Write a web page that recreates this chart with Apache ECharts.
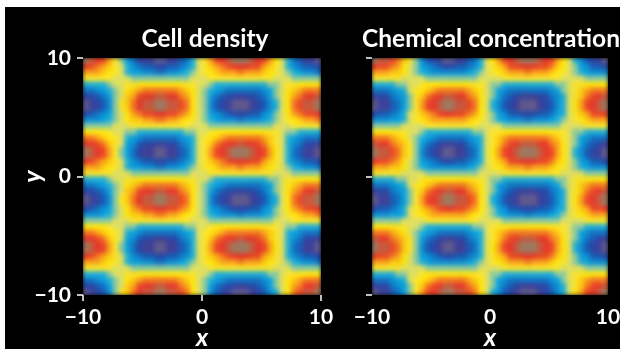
<!DOCTYPE html>
<html><head><meta charset="utf-8">
<style>html,body{margin:0;padding:0;background:#fff}#c{width:620px;height:349px;position:relative}
#c canvas[data-zr-dom-id="zr_1"]{filter:blur(2px);clip-path:polygon(83px 58px,321px 58px,321px 295px,372px 295px,372px 58px,608px 58px,608px 295px,83px 295px)}
</style>
<script src="https://cdn.jsdelivr.net/npm/echarts@6/dist/echarts.min.js"></script>
</head><body><div id="c"></div>
<script>
// Tick labels
const xTicks = [-10, 0, 10];
const yTicks = [-10, 0, 10];
const titles = ['Cell density', 'Chemical concentration'];

// Cell density: rows, levels -9 (blue centre) .. 9 (red centre)
const a1 = [9,8,7,6,4,1,-1,-3,-5,-7,-8,-8,-9,-9,-8,-8,-6,-5,-2,0,1,4,6,7,8,9,9,9,8,7,6,4,2,0,-2,-5,-6,-8,-8,-9];
const a2 = [7,7,6,5,3,1,0,-3,-4,-6,-7,-7,-8,-8,-7,-7,-5,-4,-2,0,1,3,5,6,7,7,8,7,7,6,5,3,1,0,-2,-4,-5,-7,-7,-8];
const a3 = [7,6,5,4,3,1,0,-2,-4,-5,-6,-6,-7,-7,-6,-6,-5,-4,-2,0,1,3,4,5,6,7,7,7,6,6,4,3,1,0,-2,-4,-5,-6,-6,-7];
const a4 = [5,5,4,3,2,1,0,-2,-3,-4,-5,-5,-5,-5,-5,-5,-4,-3,-2,0,1,2,3,4,5,5,5,5,5,5,4,3,1,0,-2,-3,-4,-5,-5,-5];
const a5 = [4,4,4,3,2,1,0,-2,-3,-3,-4,-4,-5,-5,-4,-4,-3,-2,-1,0,1,2,3,4,4,4,5,4,4,4,3,2,1,0,-1,-2,-3,-4,-4,-5];
const a6 = [2,2,2,2,1,0,0,-1,-1,-2,-2,-2,-2,-2,-2,-2,-2,-1,-1,0,0,1,2,2,2,2,2,2,2,2,2,1,1,0,-1,-1,-2,-2,-2,-2];
const a7 = [1,1,1,1,1,0,0,0,-1,-1,-1,-1,-1,-1,-1,-1,-1,-1,0,0,0,1,1,1,1,1,1,1,1,1,1,1,0,0,0,-1,-1,-1,-1,-1];
const b1 = [-9,-8,-7,-6,-4,-1,1,3,5,7,8,8,9,9,8,8,6,5,2,0,-1,-4,-6,-7,-8,-9,-9,-9,-8,-7,-6,-4,-2,0,2,5,6,8,8,9];
const b2 = [-7,-7,-6,-5,-3,-1,0,3,4,6,7,7,8,8,7,7,5,4,2,0,-1,-3,-5,-6,-7,-7,-8,-7,-7,-6,-5,-3,-1,0,2,4,5,7,7,8];
const b3 = [-7,-6,-5,-4,-3,-1,0,2,4,5,6,6,7,7,6,6,5,4,2,0,-1,-3,-4,-5,-6,-7,-7,-7,-6,-6,-4,-3,-1,0,2,4,5,6,6,7];
const b4 = [-5,-5,-4,-3,-2,-1,0,2,3,4,5,5,5,5,5,5,4,3,2,0,-1,-2,-3,-4,-5,-5,-5,-5,-5,-5,-4,-3,-1,0,2,3,4,5,5,5];
const b5 = [-4,-4,-4,-3,-2,-1,0,2,3,3,4,4,5,5,4,4,3,2,1,0,-1,-2,-3,-4,-4,-4,-5,-4,-4,-4,-3,-2,-1,0,1,2,3,4,4,5];
const b6 = [-2,-2,-2,-2,-1,0,0,1,1,2,2,2,2,2,2,2,2,1,1,0,0,-1,-2,-2,-2,-2,-2,-2,-2,-2,-2,-1,-1,0,1,1,2,2,2,2];
const b7 = [-1,-1,-1,-1,-1,0,0,0,1,1,1,1,1,1,1,1,1,1,0,0,0,-1,-1,-1,-1,-1,-1,-1,-1,-1,-1,-1,0,0,0,1,1,1,1,1];
const cellDensity = [a1,a3,a5,a7,b6,b4,b2,b1,b1,b3,b5,b7,a6,a4,a2,a1,a1,a3,a5,a7,b6,b4,b2,b1,b1,b3,b5,b7,a6,a4,a2,a1,a1,a3,a5,a7,b6,b4,b2,b1];

// Chemical concentration: rows
const c1 = [9,8,8,6,5,3,1,-1,-4,-6,-7,-8,-9,-9,-8,-8,-6,-5,-2,0,2,4,6,7,8,9,9,9,8,7,6,4,2,0,-2,-4,-6,-7,-8,-9];
const c2 = [8,7,7,5,4,3,1,-1,-3,-5,-6,-7,-8,-8,-7,-7,-5,-4,-2,0,1,3,5,6,7,8,8,8,7,7,5,4,2,0,-1,-3,-5,-6,-7,-8];
const c3 = [7,6,6,5,4,2,0,-1,-3,-4,-5,-6,-7,-7,-6,-6,-5,-4,-2,0,1,3,4,6,6,7,7,7,6,6,5,3,2,0,-1,-3,-4,-6,-6,-7];
const c4 = [5,5,5,4,3,2,0,-1,-2,-3,-4,-5,-5,-5,-5,-5,-4,-3,-2,0,1,3,4,5,5,5,5,5,5,5,4,3,1,0,-1,-3,-4,-5,-5,-5];
const c5 = [4,4,4,3,3,2,0,-1,-2,-3,-4,-4,-4,-4,-4,-4,-3,-2,-1,0,1,2,3,4,4,4,5,4,4,4,3,2,1,0,-1,-2,-3,-4,-4,-4];
const c6 = [2,2,2,2,1,1,0,0,-1,-2,-2,-2,-2,-2,-2,-2,-2,-1,-1,0,1,1,2,2,2,2,2,2,2,2,2,1,1,0,-1,-1,-2,-2,-2,-2];
const c7 = [1,1,1,1,1,0,0,0,0,-1,-1,-1,-1,-1,-1,-1,-1,-1,0,0,0,0,1,1,1,1,1,1,1,1,1,1,0,0,0,0,-1,-1,-1,-1];
const d1 = [-9,-8,-8,-6,-5,-3,-1,1,4,6,7,8,9,9,8,8,6,5,2,0,-2,-4,-6,-7,-8,-9,-9,-9,-8,-7,-6,-4,-2,0,2,4,6,7,8,9];
const d2 = [-8,-7,-7,-5,-4,-3,-1,1,3,5,6,7,8,8,7,7,5,4,2,0,-1,-3,-5,-6,-7,-8,-8,-8,-7,-7,-5,-4,-2,0,1,3,5,6,7,8];
const d3 = [-7,-6,-6,-5,-4,-2,0,1,3,4,5,6,7,7,6,6,5,4,2,0,-1,-3,-4,-6,-6,-7,-7,-7,-6,-6,-5,-3,-2,0,1,3,4,6,6,7];
const d4 = [-5,-5,-5,-4,-3,-2,0,1,2,3,4,5,5,5,5,5,4,3,2,0,-1,-3,-4,-5,-5,-5,-5,-5,-5,-5,-4,-3,-1,0,1,3,4,5,5,5];
const d5 = [-4,-4,-4,-3,-3,-2,0,1,2,3,4,4,4,4,4,4,3,2,1,0,-1,-2,-3,-4,-4,-4,-5,-4,-4,-4,-3,-2,-1,0,1,2,3,4,4,4];
const d6 = [-2,-2,-2,-2,-1,-1,0,0,1,2,2,2,2,2,2,2,2,1,1,0,-1,-1,-2,-2,-2,-2,-2,-2,-2,-2,-2,-1,-1,0,1,1,2,2,2,2];
const d7 = [-1,-1,-1,-1,-1,0,0,0,0,1,1,1,1,1,1,1,1,1,0,0,0,0,-1,-1,-1,-1,-1,-1,-1,-1,-1,-1,0,0,0,0,1,1,1,1];
const chemicalConcentration = [c1,c3,c5,c7,d6,d4,d2,d1,d1,d3,d5,d7,c6,c4,c2,c1,c1,c3,c5,c7,d6,d4,d2,d1,d1,d3,d5,d7,c6,c4,c2,c1,c1,c3,c5,c7,d6,d4,d2,d1];

const palette = ['#5f5a90','#3f4299','#2a48a6','#1a5cb5','#1276c4','#0d90d4','#0ca2de','#25b0d5','#8ccaa0','#e0e062','#fbe52c','#ffe60f','#fecb10','#f9a51c','#f37a22','#ec4a27','#e63a2a','#c85a3e','#a07a60'];

const cells = t => { const o = []; t.forEach((r, y) => r.forEach((v, x) => o.push([x, y, v]))); return o; };
const idx = cellDensity[0].map((_, i) => i);
const rowIdx = cellDensity.map((_, i) => i);
const minus = v => String(v).replace('-', '\u2212');
const bold = { color: '#fff', fontFamily: 'Lato', fontWeight: 'bold', fontSize: 21 };
const italic = { color: '#fff', fontFamily: 'Lato', fontWeight: 'bold', fontStyle: 'italic', fontSize: 25 };
const tick = { show: true, length: 6, lineStyle: { color: '#fff', width: 1.5 } };
const valueX = (g, showTick) => ({
  type: 'value', gridIndex: g, min: xTicks[0], max: xTicks[2], interval: 10, position: 'bottom',
  axisLine: { show: false }, splitLine: { show: false }, axisTick: Object.assign({}, tick, { show: showTick }),
  axisLabel: Object.assign({ margin: 12, formatter: minus }, bold),
  name: 'x', nameLocation: 'middle', nameGap: 30, nameMoveOverlap: false, nameTextStyle: italic
});
const valueY = (g, showLabel) => {
  const o = {
    type: 'value', gridIndex: g, min: yTicks[0], max: yTicks[2], interval: 10, position: 'left',
    axisLine: { show: false }, splitLine: { show: false }, axisTick: tick,
    axisLabel: Object.assign({ show: showLabel, margin: 12, formatter: minus }, bold)
  };
  if (showLabel) { o.name = 'y'; o.nameLocation = 'middle'; o.nameGap = 38; o.nameRotate = 90; o.nameMoveOverlap = false; o.nameTextStyle = italic; }
  return o;
};
const catX = g => ({ type: 'category', gridIndex: g, data: idx, show: false });
const catY = g => ({ type: 'category', gridIndex: g, data: rowIdx, inverse: true, show: false });
const titleStyle = { color: '#fff', fontFamily: 'Lato', fontWeight: 'bold', fontSize: 24.5 };

const chart = echarts.init(document.getElementById('c'), null, { renderer: 'canvas' });
chart.setOption({
  animation: false,
  backgroundColor: '#fff',
  graphic: [{ type: 'rect', z: -10, silent: true, shape: { x: 5, y: 7, width: 615, height: 342 }, style: { fill: '#000' } }],
  title: [
    { text: titles[0], left: 200, top: 22, textAlign: 'center', textStyle: titleStyle },
    { text: titles[1], left: 486, top: 22, textAlign: 'center', textStyle: titleStyle }
  ],
  grid: [
    { left: 83, top: 58, width: 238, height: 237, outerBoundsMode: 'none' },
    { left: 372, top: 58, width: 236, height: 237, outerBoundsMode: 'none' }
  ],
  xAxis: [catX(0), valueX(0, true), catX(1), valueX(1, false)],
  yAxis: [catY(0), valueY(0, true), catY(1), valueY(1, false)],
  visualMap: { show: false, min: -9, max: 9, seriesIndex: [0, 1], inRange: { color: palette } },
  series: [
    { type: 'heatmap', zlevel: 1, xAxisIndex: 0, yAxisIndex: 0, data: cells(cellDensity), progressive: 0 },
    { type: 'heatmap', zlevel: 1, xAxisIndex: 2, yAxisIndex: 2, data: cells(chemicalConcentration), progressive: 0 }
  ]
});
</script></body></html>
